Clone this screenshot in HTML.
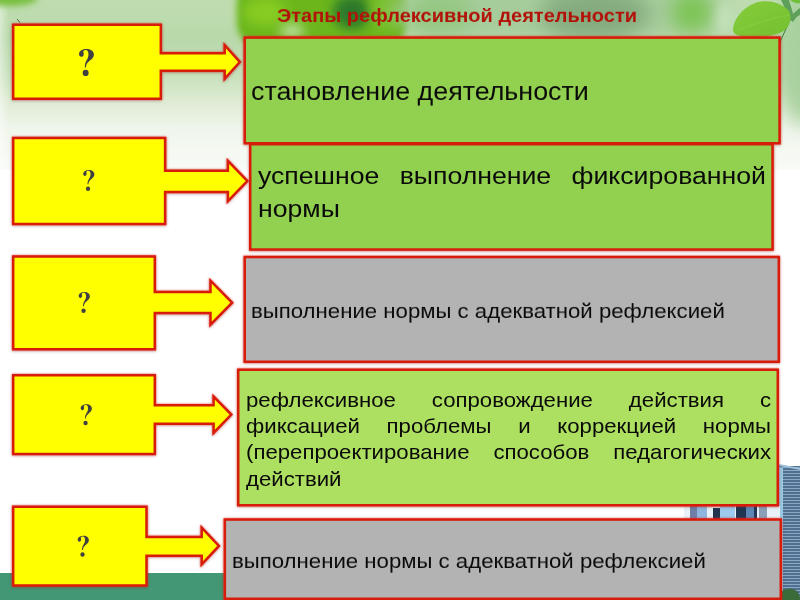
<!DOCTYPE html>
<html><head><meta charset="utf-8">
<style>
html,body{margin:0;padding:0;}
body{width:800px;height:600px;position:relative;overflow:hidden;background:#fff;font-family:"Liberation Sans",sans-serif;}
#bg{position:absolute;left:0;top:0;width:800px;height:170px;
 background:
  linear-gradient(to right, rgba(255,255,255,0.45) 0px, rgba(255,255,255,0) 9px),
  linear-gradient(to bottom, #bedcb0 0px, #bcdbae 20px, #b8d8aa 38px, #c9e1bd 78px, #d4e7c8 90px, #e2edd9 106px, #f0f6ec 130px, #f8fbf6 169px);
}
#band{position:absolute;left:0;top:573px;width:800px;height:27px;background:#449775;}
svg{position:absolute;left:0;top:0;}
#wrap{position:absolute;left:0;top:0;width:800px;height:600px;overflow:hidden;}
.t{position:absolute;white-space:pre;line-height:1;color:#0a0a0a;will-change:transform;}
.jl{display:block;text-align:justify;text-align-last:justify;white-space:normal;transform:scaleY(0.93);transform-origin:0 80%;}
.bl{display:block;transform:scaleY(0.93);transform-origin:0 80%;}
.s1{transform:scaleY(0.93);transform-origin:0 82%;}
</style></head>
<body>
<div id="wrap">
<div id="bg"></div>
<svg width="800" height="170" viewBox="0 0 800 170">
 <defs>
  <filter id="b3" x="-50%" y="-50%" width="200%" height="200%"><feGaussianBlur stdDeviation="3"/></filter>
  <filter id="b6" x="-50%" y="-50%" width="200%" height="200%"><feGaussianBlur stdDeviation="6"/></filter>
  <filter id="b10" x="-50%" y="-50%" width="200%" height="200%"><feGaussianBlur stdDeviation="10"/></filter>
 </defs>
 <ellipse cx="8" cy="-2" rx="30" ry="8" fill="#78bf3c" filter="url(#b3)"/>
 <rect x="237" y="-20" width="170" height="66" rx="22" fill="#6cb61e" filter="url(#b3)"/>
 <ellipse cx="265" cy="12" rx="22" ry="14" fill="#86cc24" filter="url(#b6)"/>
 <ellipse cx="292" cy="31" rx="12" ry="7" fill="#c2e2a8" filter="url(#b6)"/>
 <ellipse cx="352" cy="12" rx="19" ry="17" fill="#2c782c" filter="url(#b6)"/>
 <ellipse cx="385" cy="10" rx="14" ry="20" fill="#78c02a" filter="url(#b6)"/>
 <ellipse cx="560" cy="10" rx="170" ry="30" fill="#a6cc9c" filter="url(#b10)"/>
 <ellipse cx="440" cy="14" rx="34" ry="22" fill="#94c882" filter="url(#b10)"/>
 <ellipse cx="595" cy="14" rx="55" ry="26" fill="#84aa7e" filter="url(#b10)"/>
 <ellipse cx="692" cy="12" rx="20" ry="22" fill="#7cc452" filter="url(#b10)"/>
 <ellipse cx="725" cy="18" rx="8" ry="16" fill="#c4e2bc" filter="url(#b6)"/>
 <ellipse cx="805" cy="55" rx="28" ry="70" fill="#a8d09e" filter="url(#b10)"/>
</svg>

<div id="band"></div>
<!-- leaf + city -->
<svg width="800" height="600" viewBox="0 0 800 600">
 <defs>
  <linearGradient id="lf" x1="0" y1="0" x2="1" y2="1">
   <stop offset="0" stop-color="#86cc3a"/><stop offset="1" stop-color="#74c030"/>
  </linearGradient>
  <pattern id="win" width="6" height="3" patternUnits="userSpaceOnUse">
   <rect width="6" height="3" fill="#4f7090"/><rect y="2" width="6" height="1" fill="#8aa8c2"/>
  </pattern>
 </defs>
  <path d="M781 0 C784 6 787 12 789 19 L793 22 C795 19 797 16 800 15 L800 8 C797 10 795 12 793 14 C792 9 790 4 789 0 Z" fill="#5e9f5a"/>
 <path d="M790 20 L780 42" stroke="#3f7a3a" stroke-width="1" fill="none"/>
 <path d="M733 30 C733 20 742 8 755 3 C766 -1 780 2 788 10 C792 15 791 22 787 28 C780 36 760 38 745 37 C738 36 733 34 733 30 Z" fill="url(#lf)"/>
 <path d="M738 30 C752 25 770 18 789 15" stroke="#9ad65a" stroke-width="0.8" fill="none" opacity="0.5"/>
 <path d="M790 0 C794 3 798 4 800 3 L800 0 Z" fill="#6fbf3a"/>
<rect x="779" y="466" width="21" height="134" fill="url(#win)"/>
 <rect x="779" y="468" width="4" height="132" fill="#98c8e2"/>
 <path d="M779 466 L800 470 L800 468 L779 464 Z" fill="#9fc0d8"/>
 <rect x="684" y="506" width="96" height="13" fill="#e8f2f8"/>
 <rect x="690" y="506" width="7" height="13" fill="#6f7fa6"/>
 <rect x="697" y="506" width="10" height="13" fill="#8fb6de"/>
 <rect x="713" y="508" width="7" height="11" fill="#23344f"/>
 <rect x="720" y="506" width="15" height="13" fill="#9ccbed"/>
 <rect x="736" y="506" width="10" height="13" fill="#1f3552"/>
 <rect x="746" y="506" width="8" height="13" fill="#5d88b5"/>
 <rect x="754" y="506" width="3" height="13" fill="#22385a"/>
 <rect x="759" y="506" width="8" height="13" fill="#8aa0b8"/>
 <path d="M776 600 C778 592 784 588 792 589 C797 590 800 593 800 600 Z" fill="#3c6b3a"/>
</svg>


<svg width="40" height="40" viewBox="0 0 40 40"><path d="M17.2 19.2 L20 22.6" stroke="#404a40" stroke-width="0.9"/></svg>
<!-- title -->
<div class="t s1" style="left:277px;top:5.3px;font-size:20px;font-weight:bold;color:#b3120a;">Этапы рефлексивной деятельности</div>

<!-- right boxes -->
<svg width="800" height="600" viewBox="0 0 800 600" style="filter:drop-shadow(0 0 1px rgba(240,50,50,0.75)) drop-shadow(0.6px 1.6px 1.4px rgba(0,0,0,0.16))">
 <g stroke="#d81c0a" stroke-width="2.5">
  <rect x="250.25" y="144.25" width="522.3" height="105.3" fill="#92d050"/>
  <rect x="244.75" y="37.6" width="534.8" height="105.65" fill="#92d050"/>
  <rect x="244.75" y="257.05" width="534" height="104.7" fill="#b3b3b3"/>
  <rect x="238.25" y="369.75" width="539.5" height="135.5" fill="#addf60"/>
  <rect x="224.85" y="519.55" width="555.9" height="79.2" fill="#b3b3b3"/>
 </g>
</svg>

<!-- callouts -->
<svg width="800" height="600" viewBox="0 0 800 600" style="filter:drop-shadow(0 0 1px rgba(240,50,50,0.75)) drop-shadow(0.6px 1.6px 1.4px rgba(0,0,0,0.16))">
 <g fill="#ffff00" stroke="#d81c0a" stroke-width="2.5" stroke-linejoin="miter">
  <path d="M13.2 24.7 H160.8 V53.2 H224.7 V45.2 L239.8 62 L224.7 78.8 V70.8 H160.8 V98.8 H13.2 Z"/>
  <path d="M13.2 137.9 H165.1 V170.7 H227.9 V160.9 L247.3 181 L227.9 201.1 V192.1 H165.1 V224.1 H13.2 Z"/>
  <path d="M13.2 256.6 H154.8 V292 H210.5 V280.7 L232.1 302.7 L210.5 324.7 V313.1 H154.8 V349.2 H13.2 Z"/>
  <path d="M13.2 375.3 H154.8 V405.2 H213.6 V396.6 L231.3 414.6 L213.6 432.9 V423.8 H154.8 V454.1 H13.2 Z"/>
  <path d="M13.2 506.8 H146.5 V537 H201.7 V527.6 L218.9 545.9 L201.7 564.4 V555.7 H146.5 V585.6 H13.2 Z"/>
 </g>
</svg>

<svg width="800" height="600" viewBox="0 0 800 600">
 <defs><g id="qs"><path d="M5.0 8.6 C5.5 5.6 8.7 4.0 12.6 4.0 C17.6 4.0 20.2 6.6 20.2 9.6 C20.2 12.8 17.7 14.5 15.1 16.4 C13.1 17.9 12.2 19.5 12.1 22.4 L10.9 22.4 C10.8 19.5 11.4 17.4 12.8 15.4 C14.2 13.4 15.0 11.6 15.0 9.3 C15.0 6.6 13.9 5.0 12.1 5.0 C10.7 5.0 9.7 5.6 9.2 6.5 C9.6 7.3 9.7 8.2 9.7 9.2 C9.7 10.7 8.6 11.6 7.3 11.6 C6.0 11.6 5.0 10.6 5.0 8.6 Z"/><circle cx="11.6" cy="28.0" r="2.9"/></g><g id="qm"><path d="M4.9 8.6 C5.4 5.6 8.6 4.0 12.6 4.0 C17.6 4.0 20.2 6.6 20.2 9.6 C20.2 12.8 17.6 14.5 15.0 16.4 C13.0 17.9 12.1 19.5 12.0 22.4 L10.9 22.4 C10.8 19.5 11.3 17.4 12.6 15.4 C13.9 13.4 14.6 11.6 14.6 9.3 C14.6 6.6 13.6 5.0 12.0 5.0 C10.6 5.0 9.6 5.6 9.1 6.6 C9.6 7.3 9.8 8.2 9.7 9.2 C9.7 10.8 8.6 11.8 7.2 11.8 C5.8 11.8 4.8 10.7 4.9 8.6 Z"/><circle cx="11.7" cy="27.9" r="3.1"/></g></defs>
 <g fill="#404040">
  <use href="#qm" transform="translate(74.3,45) scale(0.97,1)"/>
  <use href="#qs" transform="translate(79.45,166.88) scale(0.74,0.78)"/>
  <use href="#qs" transform="translate(74.95,288.88) scale(0.74,0.78)"/>
  <use href="#qs" transform="translate(76.95,401.13) scale(0.74,0.78)"/>
  <use href="#qs" transform="translate(73.95,532.63) scale(0.74,0.78)"/>
 </g>
</svg>

<!-- texts -->
<div class="t s1" style="left:250.5px;top:78.3px;font-size:26.85px;">становление деятельности</div>
<div class="t" style="left:258px;top:158.7px;font-size:26.67px;width:508px;line-height:32.5px;"><span class="jl">успешное выполнение фиксированной</span><span class="bl">нормы</span></div>
<div class="t s1" style="left:250.8px;top:300.3px;font-size:22.2px;">выполнение нормы с адекватной рефлексией</div>
<div class="t" style="left:245.5px;top:387px;font-size:22.2px;width:525px;line-height:26.2px;"><span class="jl">рефлексивное сопровождение действия с</span><span class="jl">фиксацией проблемы и коррекцией нормы</span><span class="jl">(перепроектирование способов педагогических</span><span class="bl">действий</span></div>
<div class="t s1" style="left:232px;top:550px;font-size:22.2px;">выполнение нормы с адекватной рефлексией</div>
</div>
</body></html>
